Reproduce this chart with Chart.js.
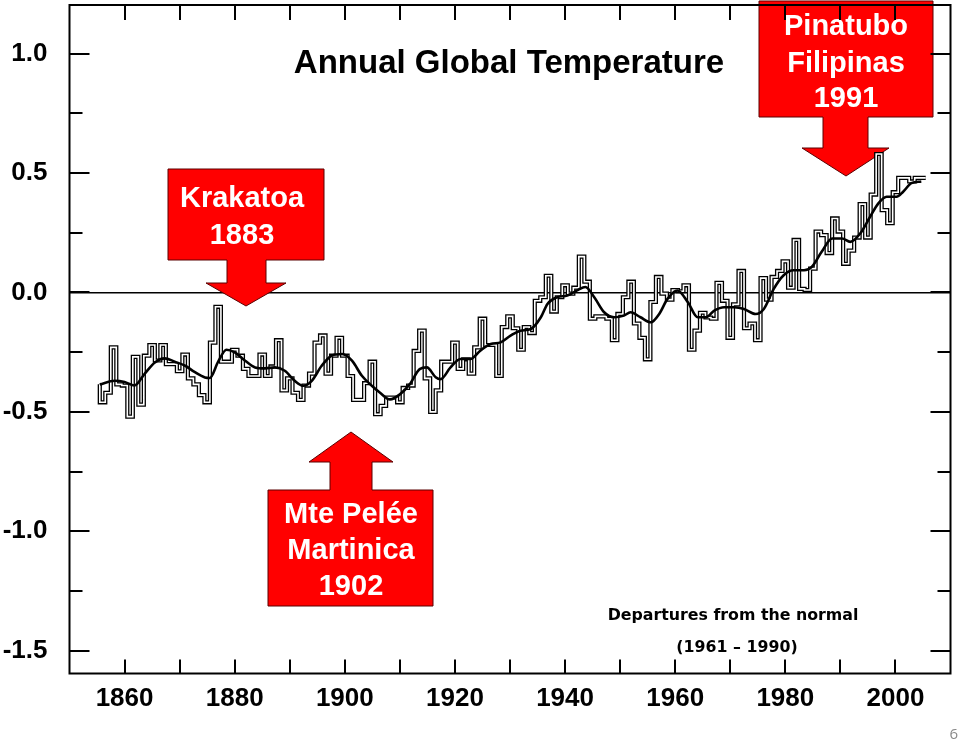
<!DOCTYPE html>
<html lang="en">
<head>
  <meta charset="UTF-8">
  <title>Annual Global Temperature</title>
  <script src="https://cdn.jsdelivr.net/npm/chart.js"></script>
  <style>
    body { margin: 0; background: #fff; }
    #wrap { position: relative; width: 960px; height: 741px; }
  </style>
</head>
<body>
  <div id="wrap">
    <canvas id="tempChart" width="960" height="741"></canvas>
  </div>

  <script>
    // annual anomalies (deg C, vs 1961-1990)
    const firstYear = 1856;
    const annualValues = [
      -0.385, -0.46, -0.42, -0.23, -0.385, -0.39, -0.52, -0.27, -0.47, -0.265,   // 1856-1865
      -0.22, -0.285, -0.22, -0.30, -0.30, -0.33, -0.26, -0.36, -0.385, -0.43,     // 1866-1875
      -0.46, -0.21, -0.06, -0.29, -0.29, -0.24, -0.265, -0.32, -0.35, -0.35,      // 1876-1885
      -0.26, -0.35, -0.31, -0.20, -0.41, -0.36, -0.42, -0.45, -0.39, -0.34,       // 1886-1895
      -0.21, -0.18, -0.34, -0.265, -0.19, -0.265, -0.35, -0.45, -0.45, -0.38,     // 1896-1905
      -0.29, -0.51, -0.475, -0.44, -0.44, -0.46, -0.40, -0.39, -0.245, -0.16,     // 1906-1915
      -0.36, -0.50, -0.41, -0.29, -0.29, -0.21, -0.32, -0.28, -0.34, -0.23,       // 1916-1925
      -0.11, -0.22, -0.22, -0.35, -0.145, -0.10, -0.15, -0.24, -0.145, -0.17,     // 1926-1935
      -0.035, -0.02, 0.07, -0.08, -0.02, 0.03, -0.005, 0.02, 0.15, 0.045,         // 1936-1945
      -0.11, -0.10, -0.10, -0.11, -0.20, -0.09, -0.02, 0.045, -0.13, -0.19,       // 1946-1955
      -0.28, -0.04, 0.065, -0.005, -0.03, 0.01, 0.005, 0.03, -0.24, -0.16,        // 1956-1965
      -0.085, -0.105, -0.11, 0.04, -0.035, -0.19, -0.05, 0.09, -0.15, -0.13,      // 1966-1975
      -0.20, 0.06, -0.03, 0.065, 0.09, 0.13, 0.02, 0.22, 0.015, 0.01,             // 1976-1985
      0.10, 0.255, 0.24, 0.165, 0.31, 0.255, 0.12, 0.175, 0.23, 0.37,             // 1986-1995
      0.23, 0.41, 0.58, 0.345, 0.29, 0.42, 0.48, 0.48, 0.465, 0.48                // 1996-2005
    ];

    // smoothed curve
    const smoothYears = [
      1855.5, 1858.2, 1860, 1861.8, 1863.6, 1865.5, 1867.3, 1869.1, 1871, 1872.7,
      1874.6, 1875.5, 1877, 1878.5, 1880, 1881.9, 1883.7, 1885.5, 1887.3, 1889.1,
      1890.9, 1892.5, 1894, 1895.8, 1897.6, 1899.5, 1901.3, 1903.1, 1904.9, 1906.4,
      1908.2, 1910, 1911.8, 1913.6, 1914.9, 1916.5, 1917.4, 1919.2, 1921, 1922.8,
      1924.6, 1926.5, 1928.3, 1930.1, 1931.9, 1933.8, 1935.6, 1936.8, 1938.6, 1940.4,
      1942.2, 1943.7, 1945.3, 1947.1, 1948.9, 1950.7, 1951.9, 1953.7, 1955.6, 1957.1,
      1958.6, 1960.4, 1962.3, 1964.1, 1965.6, 1967.1, 1968.9, 1970.7, 1972.5, 1974.6,
      1976.1, 1977.9, 1979.7, 1981.5, 1983.4, 1984.8, 1986.6, 1988.5, 1990.3, 1991.8,
      1993.6, 1995.4, 1996.9, 1998.4, 2000.2, 2001.4, 2002.9, 2004.7
    ];
    const smoothValues = [
      -0.385, -0.37, -0.375, -0.39, -0.342, -0.293, -0.276, -0.29, -0.307, -0.333,
      -0.356, -0.358, -0.29, -0.24, -0.251, -0.286, -0.314, -0.318, -0.314, -0.328,
      -0.37, -0.391, -0.37, -0.307, -0.265, -0.258, -0.286, -0.349, -0.391, -0.42,
      -0.448, -0.427, -0.384, -0.321, -0.314, -0.355, -0.363, -0.314, -0.279, -0.279,
      -0.244, -0.216, -0.209, -0.181, -0.16, -0.153, -0.104, -0.048, -0.02, -0.013,
      0.009, 0.023, -0.02, -0.083, -0.104, -0.097, -0.083, -0.104, -0.125, -0.09,
      -0.027, 0.008, -0.041, -0.104, -0.104, -0.076, -0.062, -0.062, -0.069, -0.09,
      -0.069, 0.015, 0.072, 0.093, 0.093, 0.107, 0.17, 0.226, 0.226, 0.212,
      0.247, 0.317, 0.373, 0.401, 0.401, 0.422, 0.458, 0.465
    ];

    // axes
    const xMin = 1850, xMax = 2010;
    const yMin = -1.596, yMax = 1.204;
    const xLabelYears = [1860, 1880, 1900, 1920, 1940, 1960, 1980, 2000];
    const yLabelValues = [1.0, 0.5, 0.0, -0.5, -1.0, -1.5];

    const chartTitle = 'Annual Global Temperature';
    const noteLines = ['Departures from the normal', '(1961 \u2013 1990)'];
    const pageNumber = '6';

    // step line: each year drawn as a flat step from year-0.5 to year+0.5
    const annualSteps = annualValues.map((v, i) => ({ x: firstYear + i - 0.5, y: v }));
    annualSteps.push({ x: firstYear + annualValues.length - 0.5, y: annualValues[annualValues.length - 1] });
    const smoothPoints = smoothYears.map((yr, i) => ({ x: yr, y: smoothValues[i] }));

    const FONT = "'Liberation Sans', Arial, Helvetica, sans-serif";
    const isHalf = v => Math.abs(v * 2 - Math.round(v * 2)) < 1e-6;

    // volcano callouts (annotation shapes, pixel positions)
    const callouts = [
      { lines: ['Krakatoa', '1883'], box: [168, 169, 324, 260], stem: [227, 266], headY: 283, head: [206, 286], tip: [246, 306], textX: 242, baselines: [207, 244] },
      { lines: ['Pinatubo', 'Filipinas', '1991'], box: [759, 1, 933, 117], stem: [823, 868], headY: 148, head: [802, 889], tip: [846, 176], textX: 846, baselines: [35, 72, 107] },
      { lines: ['Mte Pel\u00e9e', 'Martinica', '1902'], box: [268, 490, 433, 606], stem: [330, 372], headY: 462, head: [309, 393], tip: [351, 432], textX: 351, baselines: [523, 559, 595], up: true }
    ];

    function drawCallout(ctx, c) {
      const [l, t, r, b] = c.box;
      ctx.beginPath();
      if (!c.up) {
        ctx.moveTo(l, t); ctx.lineTo(r, t); ctx.lineTo(r, b);
        ctx.lineTo(c.stem[1], b); ctx.lineTo(c.stem[1], c.headY); ctx.lineTo(c.head[1], c.headY);
        ctx.lineTo(c.tip[0], c.tip[1]);
        ctx.lineTo(c.head[0], c.headY); ctx.lineTo(c.stem[0], c.headY); ctx.lineTo(c.stem[0], b);
        ctx.lineTo(l, b);
      } else {
        ctx.moveTo(l, b); ctx.lineTo(r, b); ctx.lineTo(r, t);
        ctx.lineTo(c.stem[1], t); ctx.lineTo(c.stem[1], c.headY); ctx.lineTo(c.head[1], c.headY);
        ctx.lineTo(c.tip[0], c.tip[1]);
        ctx.lineTo(c.head[0], c.headY); ctx.lineTo(c.stem[0], c.headY); ctx.lineTo(c.stem[0], t);
        ctx.lineTo(l, t);
      }
      ctx.closePath();
      ctx.fillStyle = '#ff0000';
      ctx.fill();
      ctx.strokeStyle = '#5a0000';
      ctx.lineWidth = 1;
      ctx.stroke();
      ctx.fillStyle = '#fff';
      ctx.font = 'bold 29px ' + FONT;
      ctx.textAlign = 'center';
      ctx.textBaseline = 'alphabetic';
      c.lines.forEach((s, i) => ctx.fillText(s, c.textX, c.baselines[i]));
    }

    // callouts sit over the zero line but under the data
    const calloutLayer = {
      id: 'calloutLayer',
      beforeDatasetsDraw(chart) {
        const ctx = chart.ctx;
        ctx.save();
        callouts.forEach(c => drawCallout(ctx, c));
        ctx.restore();
      }
    };

    // frame, inward ticks, title, notes
    const decorations = {
      id: 'decorations',
      afterDraw(chart) {
        const { ctx, chartArea: a, scales: { x, y } } = chart;
        ctx.save();
        ctx.strokeStyle = '#000';
        ctx.lineWidth = 2;
        ctx.strokeRect(a.left, a.top, a.right - a.left, a.bottom - a.top);

        ctx.beginPath();
        y.ticks.forEach(t => {
          const py = Math.round(y.getPixelForValue(t.value));
          const len = isHalf(t.value) ? 20 : 13;
          ctx.moveTo(a.left, py); ctx.lineTo(a.left + len, py);
          ctx.moveTo(a.right, py); ctx.lineTo(a.right - len, py);
        });
        x.ticks.forEach(t => {
          if (t.value <= xMin || t.value >= xMax) return;
          const px = Math.round(x.getPixelForValue(t.value));
          ctx.moveTo(px, a.top); ctx.lineTo(px, a.top + 15);
          ctx.moveTo(px, a.bottom); ctx.lineTo(px, a.bottom - 14);
        });
        ctx.stroke();

        ctx.fillStyle = '#000';
        ctx.textAlign = 'center';
        ctx.textBaseline = 'alphabetic';
        ctx.font = 'bold 33px ' + FONT;
        ctx.fillText(chartTitle, 509, 73);

        ctx.font = "bold 15.8px 'DejaVu Sans', sans-serif";
        ctx.fillText(noteLines[0], 733, 620);
        ctx.fillText(noteLines[1], 737, 652);

        ctx.fillStyle = '#8a8a8a';
        ctx.font = "15px 'Open Sans', sans-serif";
        ctx.textAlign = 'right';
        ctx.fillText(pageNumber, 958, 739);
        ctx.restore();
      }
    };

    // keep the plot frame where the reference has it
    function noScalePadding(s) {
      s.paddingTop = 0;
      s.paddingBottom = 0;
      s.paddingLeft = 0;
      s.paddingRight = 0;
    }

    const ctx = document.getElementById('tempChart').getContext('2d');
    new Chart(ctx, {
      type: 'line',
      data: {
        datasets: [
          {
            label: 'smoothed',
            data: smoothPoints,
            borderColor: '#000',
            borderWidth: 2.6,
            pointRadius: 0,
            cubicInterpolationMode: 'monotone',
            fill: false,
            order: 0
          },
          {
            label: 'annual inner',
            data: annualSteps,
            borderColor: '#fff',
            borderWidth: 1.6,
            pointRadius: 0,
            stepped: 'after',
            borderJoinStyle: 'miter',
            fill: false,
            order: 1
          },
          {
            label: 'annual',
            data: annualSteps,
            borderColor: '#000',
            borderWidth: 4.2,
            pointRadius: 0,
            stepped: 'after',
            borderJoinStyle: 'miter',
            fill: false,
            order: 2
          }
        ]
      },
      options: {
        responsive: false,
        animation: false,
        devicePixelRatio: 1,
        layout: { padding: { top: 5, right: 9.5, left: 0, bottom: 0 } },
        plugins: {
          legend: { display: false },
          tooltip: { enabled: false },
          title: { display: false }
        },
        scales: {
          x: {
            type: 'linear',
            min: xMin,
            max: xMax,
            afterFit: s => { s.height = 67.5; noScalePadding(s); },
            border: { display: false },
            grid: { display: false, drawTicks: false },
            ticks: {
              stepSize: 10,
              includeBounds: false,
              autoSkip: false,
              maxRotation: 0,
              padding: 10,
              color: '#000',
              font: { family: FONT, size: 26, weight: 'bold' },
              callback: v => xLabelYears.includes(v) ? String(v) : ''
            }
          },
          y: {
            min: yMin,
            max: yMax,
            afterFit: s => { s.width = 69.5; noScalePadding(s); },
            border: { display: false },
            grid: {
              drawTicks: false,
              color: c => (c.tick && Math.abs(c.tick.value) < 1e-9) ? '#000' : 'rgba(0,0,0,0)',
              lineWidth: 1.6
            },
            ticks: {
              stepSize: 0.25,
              includeBounds: false,
              autoSkip: false,
              padding: 22,
              color: '#000',
              font: { family: FONT, size: 26, weight: 'bold' },
              callback: v => yLabelValues.some(l => Math.abs(l - v) < 1e-6) ? v.toFixed(1) : ''
            }
          }
        }
      },
      plugins: [calloutLayer, decorations]
    });
  </script>
</body>
</html>
